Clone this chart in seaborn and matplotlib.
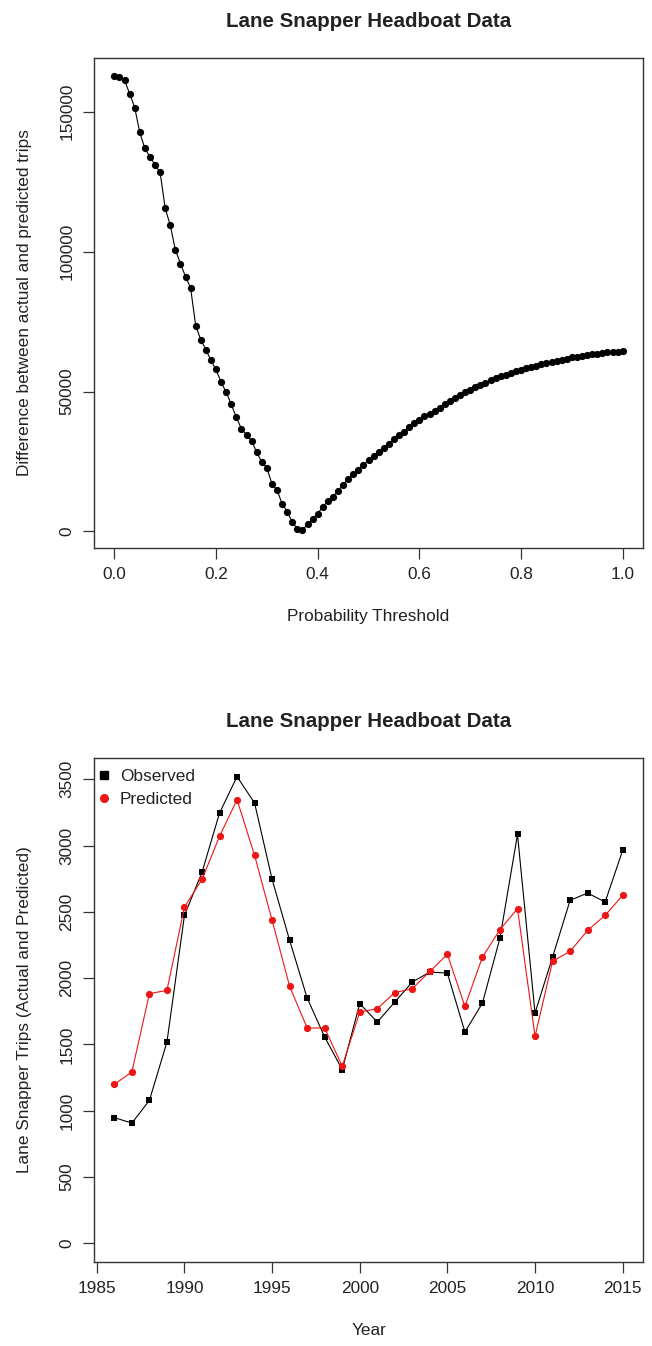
import numpy as np
import pandas as pd
import matplotlib
matplotlib.use("Agg")
import matplotlib.pyplot as plt
from matplotlib.lines import Line2D
import seaborn as sns

# top panel: difference vs probability threshold (0.00 .. 1.00 step 0.01)
thresholds = np.round(np.linspace(0, 1, 101), 2)
diff_trips = [
    162700, 162300, 161200, 156500, 151500, 142600, 136900, 133900, 131000, 128300,
    115500, 109400, 100700, 95700, 91100, 87000, 73600, 68500, 65000, 61100,
    57900, 53300, 49800, 45400, 40800, 36700, 34500, 32300, 28300, 24800,
    22800, 17000, 14900, 9900, 7100, 3300, 1000, 600, 2500, 4500,
    6300, 8900, 10800, 12300, 14600, 16700, 18800, 20400, 22100, 23800,
    25400, 27100, 28300, 29800, 31300, 33100, 34300, 35700, 37300, 38700,
    39900, 41100, 42000, 43200, 44200, 45500, 46600, 47600, 48700, 49700,
    50600, 51500, 52400, 53200, 54000, 54800, 55400, 56000, 56600, 57200,
    57800, 58300, 58700, 59200, 59700, 60100, 60600, 61000, 61400, 61800,
    62200, 62500, 62800, 63100, 63300, 63500, 63800, 64000, 64200, 64300,
    64400,
]

# bottom panel: observed vs predicted trips per year
years = list(range(1986, 2016))
observed = [948, 907, 1078, 1518, 2474, 2798, 3245, 3520, 3321, 2745,
            2285, 1850, 1556, 1310, 1808, 1669, 1820, 1971, 2046, 2038,
            1594, 1812, 2303, 3084, 1737, 2159, 2587, 2642, 2574, 2964]
predicted = [1199, 1292, 1883, 1908, 2536, 2745, 3069, 3346, 2926, 2436,
             1938, 1624, 1624, 1335, 1744, 1770, 1891, 1921, 2051, 2179,
             1787, 2159, 2366, 2524, 1561, 2127, 2202, 2360, 2474, 2624]

sns.set_style("ticks")
plt.rcParams['font.family'] = ['Liberation Sans', 'DejaVu Sans']

FS = 12.4
TXT = '#222222'
RED = '#ee1515'

fig = plt.figure(figsize=(6.52, 13.46), dpi=100)
ax1 = fig.add_axes([0.1442, 0.5929, 0.8420, 0.3640])
ax2 = fig.add_axes([0.1442, 0.0624, 0.8420, 0.3745])


def r_style(ax):
    for sp in ax.spines.values():
        sp.set_visible(True)
        sp.set_color('#333333')
        sp.set_linewidth(1.0)
    ax.tick_params(direction='out', length=8, width=0.9, color='#333333',
                   labelsize=FS, labelcolor=TXT, pad=6)
    ax.tick_params(axis='y', labelrotation=90)
    for lab in ax.get_yticklabels():
        lab.set_verticalalignment('center')


def pad_lim(lo, hi):
    r = hi - lo
    return lo - 0.04 * r, hi + 0.04 * r


# --- top chart
top = pd.DataFrame({'threshold': thresholds, 'diff': diff_trips})
sns.lineplot(data=top, x='threshold', y='diff', ax=ax1, color='black',
             linewidth=0.8, marker='o', markersize=5.2, markeredgewidth=0)
ax1.set_xlim(*pad_lim(0, 1))
ax1.set_ylim(*pad_lim(min(diff_trips), max(diff_trips)))
ax1.set_xticks([0.0, 0.2, 0.4, 0.6, 0.8, 1.0])
ax1.set_xticklabels(['0.0', '0.2', '0.4', '0.6', '0.8', '1.0'])
ax1.set_yticks([0, 50000, 100000, 150000])
ax1.set_yticklabels(['0', '50000', '100000', '150000'])
ax1.set_xlabel('Probability Threshold', fontsize=FS, color=TXT)
ax1.set_ylabel('Difference between actual and predicted trips', fontsize=FS, color=TXT)
ax1.xaxis.set_label_coords(0.5, -0.1245)
ax1.yaxis.set_label_coords(-0.113, 0.5)
ax1.set_title('Lane Snapper Headboat Data', fontsize=14.8, fontweight='bold', pad=22, color=TXT)
r_style(ax1)

# --- bottom chart
bottom = pd.DataFrame({'year': years, 'Observed': observed, 'Predicted': predicted})
sns.lineplot(data=bottom, x='year', y='Observed', ax=ax2, color='black',
             linewidth=0.8, marker='s', markersize=4.8, markeredgewidth=0)
sns.lineplot(data=bottom, x='year', y='Predicted', ax=ax2, color=RED,
             linewidth=0.8, marker='o', markersize=5.2, markeredgewidth=0)
ax2.set_xlim(*pad_lim(min(years), max(years)))
ax2.set_ylim(*pad_lim(0, max(observed)))
ax2.set_xticks([1985, 1990, 1995, 2000, 2005, 2010, 2015])
ax2.set_yticks([0, 500, 1000, 1500, 2000, 2500, 3000, 3500])
ax2.set_xlabel('Year', fontsize=FS, color=TXT)
ax2.set_ylabel('Lane Snapper Trips (Actual and Predicted)', fontsize=FS, color=TXT)
ax2.xaxis.set_label_coords(0.5, -0.121)
ax2.yaxis.set_label_coords(-0.113, 0.5)
ax2.set_title('Lane Snapper Headboat Data', fontsize=14.8, fontweight='bold', pad=22, color=TXT)
r_style(ax2)

handles = [
    Line2D([], [], linestyle='None', marker='s', color='black', markersize=5.5),
    Line2D([], [], linestyle='None', marker='o', color=RED, markersize=5.5),
]
ax2.legend(handles, ['Observed', 'Predicted'], loc='upper left',
           bbox_to_anchor=(0.0, 0.985), frameon=False,
           fontsize=FS, handlelength=0.8, handletextpad=0.5, borderaxespad=0.2,
           labelspacing=0.45, borderpad=0.0, labelcolor=TXT)

fig.savefig('out.png', dpi=100, facecolor='white')
